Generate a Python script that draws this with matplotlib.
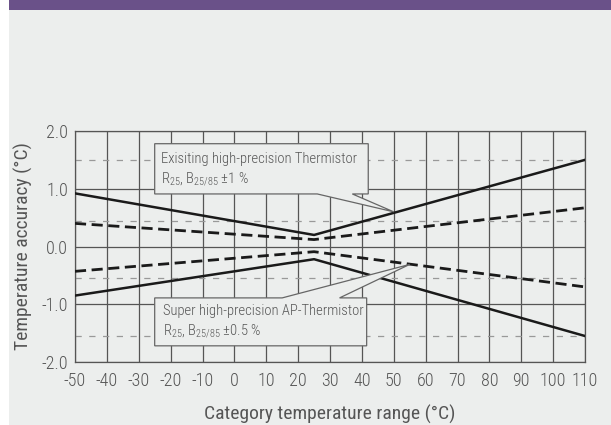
import matplotlib
matplotlib.use("Agg")
import matplotlib.pyplot as plt
from matplotlib.patches import Polygon, Rectangle

plt.rcParams['font.family'] = ['Roboto Condensed', 'DejaVu Sans']
plt.rcParams['font.weight'] = 300
plt.rcParams['mathtext.fontset'] = 'custom'
plt.rcParams['mathtext.rm'] = 'Roboto Condensed:weight=300'
plt.rcParams['mathtext.default'] = 'rm'

# Data
temps = [-50, 25, 110]
existing_upper = [0.92, 0.20, 1.50]
existing_lower = [-0.85, -0.22, -1.55]
ap_upper = [0.40, 0.12, 0.67]
ap_lower = [-0.43, -0.09, -0.70]
ref_levels = [1.5, 0.45, -0.55, -1.55]

x_ticks = list(range(-50, 111, 10))
y_ticks = [-2, -1, 0, 1, 2]
y_tick_labels = ["-2.0", "-1.0", "0.0", "1.0", "2.0"]

bg = '#eceeed'
text_col = '#555555'
grid_col = '#555555'

fig = plt.figure(figsize=(6.11, 4.25), dpi=100, facecolor='white')
# grey panel and purple header band
fig.patches.append(Rectangle((9 / 611, 0), 1, 1, transform=fig.transFigure,
                             facecolor=bg, edgecolor='none', zorder=-10))
fig.patches.append(Rectangle((9 / 611, 1 - 10 / 425), 1, 10 / 425, transform=fig.transFigure,
                             facecolor='#6a5189', edgecolor='none', zorder=-9))

ax = fig.add_axes([75 / 611, 63 / 425, 510 / 611, 231 / 425])
ax.set_facecolor(bg)
ax.set_xlim(-50, 110)
ax.set_ylim(-2, 2)

ax.set_xticks(x_ticks)
ax.set_xticklabels([str(t) for t in x_ticks])
ax.set_yticks(y_ticks)
ax.set_yticklabels(y_tick_labels)
ax.tick_params(length=0, labelsize=13, colors=text_col)
ax.tick_params(axis='x', pad=7)
ax.tick_params(axis='y', pad=5)
ax.grid(True, color=grid_col, linewidth=0.9, zorder=1)
ax.set_axisbelow(True)
for s in ax.spines.values():
    s.set_color(grid_col)
    s.set_linewidth(0.9)

# reference dashed levels
for lv in ref_levels:
    ax.axhline(lv, color='#999999', linewidth=0.9, dashes=(5, 6), zorder=2)

# tolerance curves
ax.plot(temps, existing_upper, color='#1a1a1a', linewidth=1.8, zorder=4)
ax.plot(temps, existing_lower, color='#1a1a1a', linewidth=1.8, zorder=4)
ax.plot(temps, ap_upper, color='#1a1a1a', linewidth=2.0, dashes=(4, 2), zorder=4)
ax.plot(temps, ap_lower, color='#1a1a1a', linewidth=2.0, dashes=(4, 2), zorder=4)

# callout boxes
box1 = [(-25, 1.78), (42, 1.78), (42, 0.91), (37, 0.91), (50, 0.60),
        (26, 0.91), (-25, 0.91)]
ax.add_patch(Polygon(box1, closed=True, facecolor=bg, edgecolor='#666666',
                     linewidth=0.9, zorder=5))
ax.text(-23, 1.52, "Exisiting high-precision Thermistor", fontsize=10.5,
        color=text_col, va='center', ha='left', zorder=6)
ax.text(-23, 1.17, "R$_{25}$, B$_{25/85}$ \u00b11 %", fontsize=10.5,
        color=text_col, va='center', ha='left', zorder=6)

box2 = [(-25, -0.89), (15, -0.89), (55, -0.31), (33, -0.89), (41.5, -0.89),
        (41.5, -1.72), (-25, -1.72)]
ax.add_patch(Polygon(box2, closed=True, facecolor=bg, edgecolor='#666666',
                     linewidth=0.9, zorder=5))
ax.text(-22.5, -1.12, "Super high-precision AP-Thermistor", fontsize=10.5,
        color=text_col, va='center', ha='left', zorder=6)
ax.text(-22.5, -1.46, "R$_{25}$, B$_{25/85}$ \u00b10.5 %", fontsize=10.5,
        color=text_col, va='center', ha='left', zorder=6)

ax.set_ylabel("Temperature accuracy (°C)", fontsize=14, color=text_col, labelpad=6)
ax.set_xlabel("Category temperature range (°C)", fontsize=14, color=text_col, labelpad=11)

fig.savefig("out.png", dpi=100, facecolor=fig.get_facecolor())
